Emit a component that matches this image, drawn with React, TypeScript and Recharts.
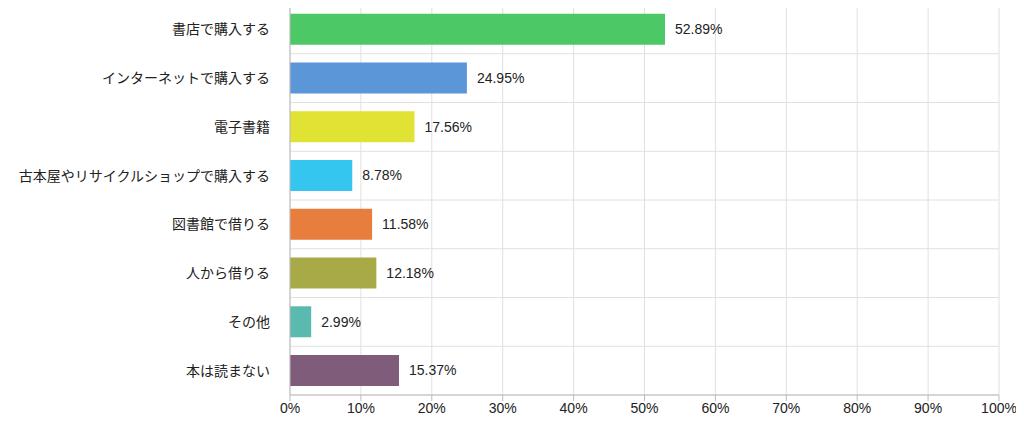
import { Bar, BarChart, CartesianGrid, Cell, LabelList, XAxis, YAxis } from "recharts";

const categories = [
  "書店で購入する",
  "インターネットで購入する",
  "電子書籍",
  "古本屋やリサイクルショップで購入する",
  "図書館で借りる",
  "人から借りる",
  "その他",
  "本は読まない",
];
const values = [52.89, 24.95, 17.56, 8.78, 11.58, 12.18, 2.99, 15.37];
const colors = ["#4dc866", "#5b96d9", "#e0e234", "#35c6ef", "#e87e3d", "#a8aa47", "#5bbab0", "#7f5c7a"];
const ticks = [0, 10, 20, 30, 40, 50, 60, 70, 80, 90, 100];

const data = categories.map((name, i) => ({ name, value: values[i] }));
const font = "'Liberation Sans', Arial, 'Noto Sans CJK JP', sans-serif";

export default function App() {
  return (
    <div style={{ margin: -8, fontFamily: font }}>
      <BarChart
        width={1024}
        height={428}
        data={data}
        layout="vertical"
        margin={{ top: 5, right: 25, bottom: 3, left: 0 }}
        barCategoryGap="18%"
      >
        <CartesianGrid
          stroke="#e0e0e0"
          horizontalCoordinatesGenerator={({ offset }: any) =>
            categories.map((_, i) => offset.top + (i * offset.height) / categories.length).concat(offset.top + offset.height)
          }
        />
        <XAxis
          type="number"
          domain={[0, 100]}
          ticks={ticks}
          tickFormatter={(v) => `${v}%`}
          tick={{ fontSize: 14, fill: "#222", fontFamily: font }}
          stroke="#bbb"
          height={30}
        />
        <YAxis
          type="category"
          dataKey="name"
          width={290}
          tick={{ fontSize: 14, fill: "#222", fontFamily: font }}
          tickLine={false}
          stroke="#bbb"
          tickMargin={14}
        />
        <Bar dataKey="value" isAnimationActive={false}>
          {data.map((d, i) => (
            <Cell key={d.name} fill={colors[i]} />
          ))}
          <LabelList
            dataKey="value"
            position="right"
            offset={10}
            formatter={(v: any) => `${Number(v).toFixed(2)}%`}
            style={{ fontSize: 14, fill: "#222", fontFamily: font }}
          />
        </Bar>
      </BarChart>
    </div>
  );
}
